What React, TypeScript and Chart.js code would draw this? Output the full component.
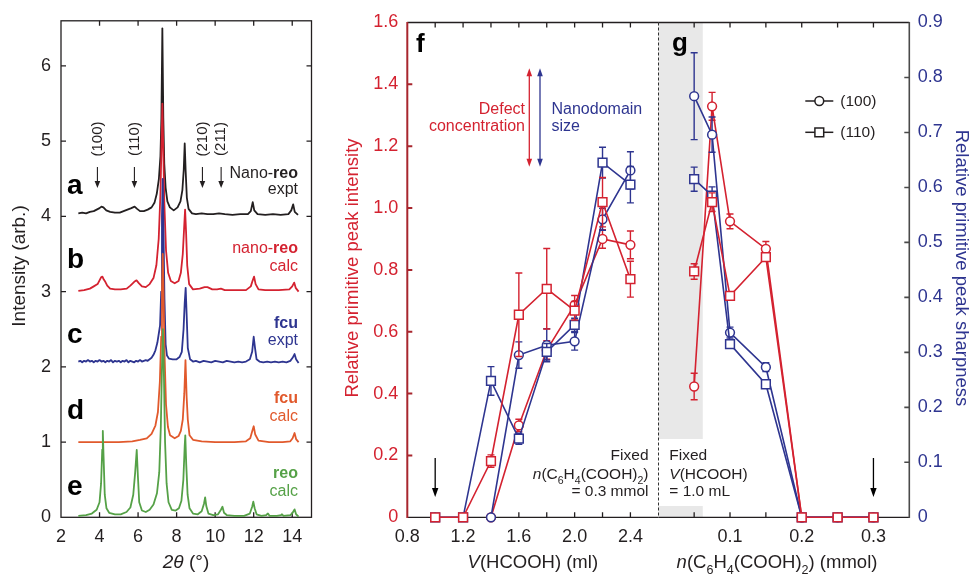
import React, { useEffect, useRef } from 'react';
import { Chart, registerables } from 'chart.js';

Chart.register(...registerables);

const FONT = '"Liberation Sans", Arial, Helvetica, sans-serif';
Chart.defaults.font.family = FONT;

const BLACK = '#231f20';
const RED = '#d42230';
const BLUE = '#2e3590';
const ORANGE = '#e1592c';
const GREEN = '#55a147';
const AXIS_RED = '#a8262e';
const AXIS_GREY = '#4a4a4a';
const GREY_BAND = '#e8e8e8';

// ---------- Panels a–e : PXRD patterns [2θ (°), intensity (offset)] ----------
const xrdNanoReoExpt: [number, number][] = [
  [2.9, 4.04], [3.1, 4.05], [3.3, 4.04], [3.5, 4.06], [3.7, 4.07], [3.85, 4.09], [4.0, 4.11], [4.1, 4.13],
  [4.2, 4.12], [4.35, 4.08], [4.55, 4.06], [4.8, 4.05], [5.05, 4.05], [5.25, 4.07], [5.45, 4.09], [5.65, 4.11],
  [5.82, 4.13], [5.95, 4.10], [6.1, 4.07], [6.3, 4.07], [6.5, 4.09], [6.7, 4.12], [6.85, 4.18], [6.97, 4.3],
  [7.08, 4.5], [7.16, 4.8], [7.21, 5.3], [7.26, 6.5], [7.31, 5.3], [7.36, 4.7], [7.43, 4.38], [7.52, 4.2],
  [7.65, 4.12], [7.85, 4.08], [8.05, 4.12], [8.2, 4.2], [8.3, 4.35], [8.37, 4.62], [8.42, 4.97], [8.47, 4.6],
  [8.53, 4.25], [8.62, 4.1], [8.8, 4.04], [9.0, 4.03], [9.3, 4.04], [9.6, 4.03], [9.9, 4.03], [10.2, 4.04],
  [10.5, 4.03], [10.9, 4.02], [11.3, 4.03], [11.7, 4.03], [11.85, 4.07], [11.95, 4.19], [12.03, 4.08],
  [12.2, 4.03], [12.6, 4.02], [13.0, 4.03], [13.4, 4.02], [13.8, 4.03], [13.95, 4.08], [14.05, 4.16],
  [14.13, 4.06], [14.3, 4.02],
];
const xrdNanoReoCalc: [number, number][] = [
  [2.9, 3.01], [3.2, 3.02], [3.5, 3.04], [3.7, 3.07], [3.9, 3.10], [4.0, 3.15], [4.08, 3.19], [4.15, 3.2],
  [4.22, 3.16], [4.3, 3.13], [4.4, 3.08], [4.55, 3.04], [4.8, 3.03], [5.1, 3.03], [5.41, 3.04], [5.6, 3.08],
  [5.8, 3.13], [5.92, 3.15], [6.05, 3.11], [6.2, 3.07], [6.4, 3.06], [6.6, 3.1], [6.8, 3.18], [6.95, 3.35],
  [7.07, 3.7], [7.16, 4.3], [7.22, 5.0], [7.26, 5.5], [7.3, 5.0], [7.36, 4.2], [7.45, 3.55], [7.56, 3.25],
  [7.7, 3.14], [7.9, 3.11], [8.1, 3.14], [8.22, 3.25], [8.32, 3.5], [8.39, 3.85], [8.44, 4.09], [8.49, 3.8],
  [8.55, 3.35], [8.65, 3.1], [8.85, 3.03], [9.2, 3.04], [9.45, 3.06], [9.6, 3.06], [9.85, 3.03], [10.1, 3.03],
  [10.3, 3.04], [10.5, 3.02], [11.0, 3.02], [11.6, 3.02], [11.85, 3.07], [11.95, 3.15], [12.02, 3.2],
  [12.1, 3.1], [12.25, 3.03], [12.6, 3.02], [13.3, 3.02], [13.85, 3.03], [14.0, 3.07], [14.1, 3.12],
  [14.18, 3.05], [14.33, 3.0],
];
const xrdFcuExpt: [number, number][] = [
  [2.9, 2.07], [3.0, 2.08], [3.1, 2.06], [3.2, 2.08], [3.3, 2.07], [3.4, 2.09], [3.5, 2.07], [3.6, 2.08],
  [3.7, 2.06], [3.8, 2.08], [3.9, 2.07], [4.0, 2.09], [4.1, 2.07], [4.2, 2.08], [4.3, 2.06], [4.4, 2.08],
  [4.5, 2.07], [4.6, 2.09], [4.7, 2.06], [4.8, 2.08], [4.9, 2.07], [5.0, 2.08], [5.1, 2.06], [5.2, 2.08],
  [5.3, 2.07], [5.4, 2.09], [5.5, 2.06], [5.6, 2.08], [5.7, 2.07], [5.8, 2.06], [5.9, 2.08], [6.0, 2.07],
  [6.1, 2.09], [6.2, 2.07], [6.3, 2.08], [6.4, 2.09], [6.5, 2.08], [6.6, 2.1], [6.7, 2.12], [6.8, 2.16],
  [6.9, 2.22], [7.0, 2.32], [7.08, 2.45], [7.14, 2.55], [7.2, 3.0], [7.24, 4.0], [7.28, 4.5], [7.32, 3.8],
  [7.37, 2.9], [7.43, 2.3], [7.5, 2.15], [7.6, 2.11], [7.8, 2.1], [8.0, 2.1], [8.15, 2.13], [8.27, 2.2],
  [8.36, 2.5], [8.42, 2.85], [8.47, 3.05], [8.52, 2.7], [8.58, 2.25], [8.7, 2.1], [8.85, 2.07], [9.0, 2.08],
  [9.2, 2.06], [9.4, 2.08], [9.6, 2.07], [9.8, 2.06], [10.0, 2.08], [10.2, 2.07], [10.4, 2.06], [10.6, 2.08],
  [10.8, 2.07], [11.0, 2.06], [11.2, 2.07], [11.4, 2.06], [11.6, 2.07], [11.8, 2.1], [11.92, 2.2],
  [12.0, 2.4], [12.07, 2.25], [12.15, 2.1], [12.3, 2.07], [12.5, 2.06], [12.7, 2.07], [12.9, 2.06],
  [13.1, 2.07], [13.3, 2.06], [13.5, 2.07], [13.7, 2.06], [13.9, 2.08], [14.02, 2.12], [14.12, 2.17],
  [14.2, 2.1], [14.33, 2.05],
];
const xrdFcuCalc: [number, number][] = [
  [2.9, 1.0], [4.0, 1.0], [5.0, 1.0], [5.7, 1.01], [6.1, 1.03], [6.45, 1.05], [6.7, 1.11], [6.9, 1.22],
  [7.03, 1.4], [7.13, 1.8], [7.2, 2.4], [7.24, 3.0], [7.28, 3.5], [7.32, 3.0], [7.37, 2.2], [7.45, 1.5],
  [7.55, 1.2], [7.66, 1.09], [7.9, 1.05], [8.1, 1.08], [8.22, 1.15], [8.32, 1.3], [8.4, 1.65], [8.46, 2.09],
  [8.52, 1.6], [8.58, 1.3], [8.67, 1.09], [8.85, 1.03], [9.3, 1.01], [10.0, 1.0], [11.0, 1.0], [11.6, 1.01],
  [11.82, 1.05], [11.93, 1.15], [12.0, 1.21], [12.08, 1.1], [12.25, 1.02], [12.8, 1.0], [13.5, 1.0],
  [13.9, 1.01], [14.02, 1.05], [14.12, 1.12], [14.2, 1.04], [14.33, 1.0],
];
const xrdReoCalc: [number, number][] = [
  [2.9, 0.02], [3.3, 0.03], [3.6, 0.05], [3.85, 0.1], [4.0, 0.2], [4.08, 0.45], [4.14, 0.9], [4.17, 1.15],
  [4.21, 0.8], [4.27, 0.3], [4.36, 0.12], [4.5, 0.06], [4.8, 0.04], [5.1, 0.04], [5.4, 0.07], [5.6, 0.13],
  [5.75, 0.3], [5.85, 0.6], [5.93, 0.895], [5.99, 0.55], [6.06, 0.2], [6.2, 0.09], [6.4, 0.07], [6.6, 0.1],
  [6.8, 0.17], [6.98, 0.32], [7.1, 0.6], [7.18, 1.2], [7.24, 2.0], [7.29, 2.5], [7.34, 1.9], [7.4, 1.0],
  [7.48, 0.45], [7.58, 0.2], [7.75, 0.1], [7.95, 0.09], [8.12, 0.12], [8.25, 0.22], [8.35, 0.5], [8.42, 0.95],
  [8.45, 1.09], [8.5, 0.7], [8.57, 0.3], [8.67, 0.12], [8.85, 0.05], [9.1, 0.04], [9.3, 0.08], [9.42, 0.18],
  [9.48, 0.266], [9.54, 0.15], [9.65, 0.05], [9.9, 0.03], [10.15, 0.04], [10.3, 0.1], [10.38, 0.14],
  [10.46, 0.06], [10.6, 0.03], [11.0, 0.02], [11.5, 0.02], [11.8, 0.05], [11.92, 0.14], [11.98, 0.207],
  [12.05, 0.12], [12.15, 0.04], [12.4, 0.02], [12.65, 0.03], [12.74, 0.05], [12.82, 0.02], [13.2, 0.02],
  [13.42, 0.03], [13.47, 0.04], [13.55, 0.02], [13.9, 0.03], [14.02, 0.06], [14.12, 0.106], [14.2, 0.04],
  [14.33, 0.01],
];
const xrdTwoThetaTicks = [2, 4, 6, 8, 10, 12, 14];
const xrdIntensityTicks = [0, 1, 2, 3, 4, 5, 6];
const reflectionLabels = ['(100)', '(110)', '(210)', '(211)'];
const reflectionTwoTheta = [3.89, 5.81, 9.34, 10.31];

// ---------- Panel f : vs V(HCOOH) (ml) ----------
const vHCOOH = [1.0, 1.2, 1.4, 1.6, 1.8, 2.0, 2.2, 2.4];
const fIntensity100 = [null, null, 0, 0.297, 0.541, 0.687, 0.9, 0.881];
const fIntensity100Err = [0, 0, 0, 0.02, 0.03, 0.03, 0.03, 0.045];
const fIntensity110 = [0, 0, 0.182, 0.655, 0.739, 0.668, 1.019, 0.77];
const fIntensity110Err = [0, 0, 0.02, 0.135, 0.13, 0.03, 0.08, 0.058];
const fSharpness100 = [null, null, 0, 0.295, 0.313, 0.32, 0.542, 0.631];
const fSharpness100Err = [0, 0, 0, 0.024, 0.03, 0.016, 0.02, 0.034];
const fSharpness110 = [0, 0, 0.248, 0.143, 0.301, 0.35, 0.645, 0.605];
const fSharpness110Err = [0, 0, 0.026, 0.01, 0.015, 0.012, 0.028, 0.033];
const fSelectedV = 1.0;

// ---------- Panel g : vs n(C6H4(COOH)2) (mmol) ----------
const nBDC = [0.05, 0.075, 0.1, 0.15, 0.2, 0.25, 0.3];
const gIntensity100 = [0.423, 1.329, 0.957, 0.868, 0, null, null];
const gIntensity100Err = [0.043, 0.045, 0.024, 0.024, 0, 0, 0];
const gIntensity110 = [0.795, 1.019, 0.716, 0.841, 0, 0, 0];
const gIntensity110Err = [0.025, 0.03, 0, 0, 0, 0, 0];
const gSharpness100 = [0.766, 0.696, 0.336, 0.273, 0, 0, 0];
const gSharpness100Err = [0.079, 0.032, 0.01, 0.008, 0, 0, 0];
const gSharpness110 = [0.615, 0.585, 0.315, 0.242, 0, 0, 0];
const gSharpness110Err = [0.022, 0.016, 0, 0, 0, 0, 0];
const gSelectedN = 0.3;
const gShadedMax = 0.062;

const vTicks = [0.8, 1.0, 1.2, 1.4, 1.6, 1.8, 2.0, 2.2, 2.4, 2.6];
const vTickLabels = [0.8, 1.2, 1.6, 2.0, 2.4];
const intensityTicks = [0, 0.2, 0.4, 0.6, 0.8, 1.0, 1.2, 1.4, 1.6];
const sharpnessTicks = [0, 0.1, 0.2, 0.3, 0.4, 0.5, 0.6, 0.7, 0.8, 0.9];
const nTicks = [0.05, 0.1, 0.15, 0.2, 0.25, 0.3];
const nTickLabels = [0.1, 0.2, 0.3];

// ---------- helpers ----------
type Run = { t: string; b?: boolean; i?: boolean; sub?: boolean };
const runFont = (r: Run, size: number) =>
  `${r.i ? 'italic ' : ''}${r.b ? 'bold ' : ''}${r.sub ? size * 0.68 : size}px ${FONT}`;

function drawRuns(ctx: any, runs: Run[], x: number, y: number, size: number, color: string,
  align: 'left' | 'right' | 'center' = 'left', rot = 0, baseline = 'alphabetic') {
  ctx.save();
  ctx.translate(x, y);
  ctx.rotate(rot);
  ctx.fillStyle = color;
  ctx.textBaseline = baseline;
  ctx.textAlign = 'left';
  let w = 0;
  for (const r of runs) { ctx.font = runFont(r, size); w += ctx.measureText(r.t).width; }
  let cx = align === 'left' ? 0 : align === 'right' ? -w : -w / 2;
  for (const r of runs) {
    ctx.font = runFont(r, size);
    ctx.fillText(r.t, cx, r.sub ? size * 0.3 : 0);
    cx += ctx.measureText(r.t).width;
  }
  ctx.restore();
}

function drawArrow(ctx: any, x: number, y1: number, y2: number, color: string, both = false,
  head = 8, half = 3, lw = 1.2) {
  ctx.save();
  ctx.strokeStyle = color;
  ctx.fillStyle = color;
  ctx.lineWidth = lw;
  const dir = Math.sign(y2 - y1);
  ctx.beginPath();
  ctx.moveTo(x, both ? y1 + dir * head * 0.7 : y1);
  ctx.lineTo(x, y2 - dir * head * 0.7);
  ctx.stroke();
  const tri = (tip: number, d: number) => {
    ctx.beginPath();
    ctx.moveTo(x, tip);
    ctx.lineTo(x - half, tip - d * head);
    ctx.lineTo(x + half, tip - d * head);
    ctx.closePath();
    ctx.fill();
  };
  tri(y2, dir);
  if (both) tri(y1, -dir);
  ctx.restore();
}

const errorBarPlugin = {
  id: 'errorBars',
  beforeDatasetDraw(chart: any, args: any) {
    const ds = chart.data.datasets[args.index];
    if (!ds.err) return;
    const ys = chart.scales[ds.yAxisID];
    const ctx = chart.ctx;
    ctx.save();
    ctx.strokeStyle = ds.borderColor;
    ctx.lineWidth = 1.4;
    ds.data.forEach((p: any, i: number) => {
      const e = ds.err[i];
      if (!e || p.y == null) return;
      const el = args.meta.data[i];
      const x = el.x;
      const yt = ys.getPixelForValue(p.y + e);
      const yb = ys.getPixelForValue(p.y - e);
      ctx.beginPath();
      ctx.moveTo(x, yt); ctx.lineTo(x, yb);
      ctx.moveTo(x - 3.5, yt); ctx.lineTo(x + 3.5, yt);
      ctx.moveTo(x - 3.5, yb); ctx.lineTo(x + 3.5, yb);
      ctx.stroke();
    });
    ctx.restore();
  },
};

const xGrid = { display: false, drawTicks: true, tickLength: 8.5 };
const yGrid = { display: false, drawTicks: false };
const noBorder = { display: false };
const tickFont = { family: FONT, size: 18 };
const fmt1 = (v: number) => (v === 0 ? '0' : v.toFixed(1));

function seriesDs(xs: number[], ys: (number | null)[], err: number[], color: string,
  shape: 'circle' | 'rect', axis: string) {
  return {
    data: xs.map((x, i) => ({ x, y: ys[i] })),
    err,
    yAxisID: axis,
    borderColor: color,
    backgroundColor: color,
    borderWidth: 1.6,
    pointStyle: shape,
    pointRadius: shape === 'rect' ? 6.2 : 4.4,
    pointBorderWidth: 1.5,
    pointBackgroundColor: '#ffffff',
    pointBorderColor: color,
    tension: 0,
    clip: false,
    spanGaps: false,
  };
}

// ---------- XRD chart ----------
const xrdDecor = {
  id: 'xrdDecor',
  beforeDatasetsDraw(chart: any) {
    const { ctx, chartArea: a, scales } = chart;
    const x = scales.x, y = scales.y;
    ctx.save();
    ctx.strokeStyle = BLACK;
    ctx.lineWidth = 1.3;
    ctx.strokeRect(a.left, a.top, a.right - a.left, a.bottom - a.top);
    ctx.beginPath();
    for (const v of xrdTwoThetaTicks) {
      const px = x.getPixelForValue(v);
      if (px <= a.left + 1) continue;
      ctx.moveTo(px, a.bottom); ctx.lineTo(px, a.bottom - 5);
      ctx.moveTo(px, a.top); ctx.lineTo(px, a.top + 5);
    }
    for (const v of xrdIntensityTicks) {
      const py = y.getPixelForValue(v);
      if (py >= a.bottom - 1) continue;
      ctx.moveTo(a.left, py); ctx.lineTo(a.left + 5, py);
      ctx.moveTo(a.right, py); ctx.lineTo(a.right - 5, py);
    }
    ctx.stroke();
    ctx.restore();
  },
  afterDraw(chart: any) {
    const { ctx, scales } = chart;
    const x = scales.x;
    reflectionLabels.forEach((lab, i) => {
      const px = x.getPixelForValue(reflectionTwoTheta[i]);
      drawRuns(ctx, [{ t: lab }], px, 139, 15, BLACK, 'center', -Math.PI / 2, 'middle');
      drawArrow(ctx, px, 167, 188, BLACK, false, 7, 2.8, 1.1);
    });
    const letters: [string, number][] = [['a', 194], ['b', 268], ['c', 343], ['d', 419], ['e', 495]];
    for (const [l, yy] of letters) drawRuns(ctx, [{ t: l, b: true }], 67, yy, 28, '#000');
    const R = 298;
    drawRuns(ctx, [{ t: 'Nano-' }, { t: 'reo', b: true }], R, 178, 16, BLACK, 'right');
    drawRuns(ctx, [{ t: 'expt' }], R, 194, 16, BLACK, 'right');
    drawRuns(ctx, [{ t: 'nano-' }, { t: 'reo', b: true }], R, 253, 16, RED, 'right');
    drawRuns(ctx, [{ t: 'calc' }], R, 271, 16, RED, 'right');
    drawRuns(ctx, [{ t: 'fcu', b: true }], R, 328, 16, BLUE, 'right');
    drawRuns(ctx, [{ t: 'expt' }], R, 345, 16, BLUE, 'right');
    drawRuns(ctx, [{ t: 'fcu', b: true }], R, 403, 16, ORANGE, 'right');
    drawRuns(ctx, [{ t: 'calc' }], R, 421, 16, ORANGE, 'right');
    drawRuns(ctx, [{ t: 'reo', b: true }], R, 478, 16, GREEN, 'right');
    drawRuns(ctx, [{ t: 'calc' }], R, 496, 16, GREEN, 'right');
    drawRuns(ctx, [{ t: 'Intensity (arb.)' }], 20, 266, 19, BLACK, 'center', -Math.PI / 2, 'middle');
    drawRuns(ctx, [{ t: '2θ', i: true }, { t: ' (°)' }], 186, 568, 19, BLACK, 'center');
  },
};

const xrdLine = (pts: [number, number][], color: string) => ({
  data: pts.map(([x, y]) => ({ x, y })),
  borderColor: color,
  borderWidth: 1.8,
  borderJoinStyle: 'round',
  pointRadius: 0,
  tension: 0,
  fill: false,
});

const makeXrdConfig = (): any => ({
  type: 'line',
  data: {
    datasets: [
      xrdLine(xrdReoCalc, GREEN),
      xrdLine(xrdFcuCalc, ORANGE),
      xrdLine(xrdFcuExpt, BLUE),
      xrdLine(xrdNanoReoCalc, RED),
      xrdLine(xrdNanoReoExpt, BLACK),
    ],
  },
  options: {
    responsive: false,
    animation: false,
    devicePixelRatio: 1,
    layout: { autoPadding: false, padding: { top: 20.7, right: 18.5, left: 0, bottom: 0 } },
    plugins: { legend: { display: false }, tooltip: { enabled: false } },
    scales: {
      x: {
        type: 'linear', min: 2, max: 15,
        afterBuildTicks: (s: any) => { s.ticks = xrdTwoThetaTicks.map((value) => ({ value })); },
        afterFit: (s: any) => { s.height = 56.7; },
        ticks: { color: BLACK, font: tickFont, padding: 0, autoSkip: false, maxRotation: 0, minRotation: 0, callback: (v: number) => String(v) },
        grid: xGrid, border: noBorder,
      },
      y: {
        type: 'linear', min: 0, max: 6.6,
        afterBuildTicks: (s: any) => { s.ticks = xrdIntensityTicks.map((value) => ({ value })); },
        afterFit: (s: any) => { s.width = 61; },
        ticks: { color: BLACK, font: tickFont, padding: 10, autoSkip: false, callback: (v: number) => String(v) },
        grid: yGrid, border: noBorder,
      },
    },
  },
  plugins: [xrdDecor],
});

// ---------- Panel f ----------
const fDecor = {
  id: 'fDecor',
  beforeDatasetsDraw(chart: any) {
    const { ctx, chartArea: a, scales } = chart;
    const x = scales.x, y = scales.y;
    ctx.save();
    ctx.strokeStyle = BLACK;
    ctx.lineWidth = 1.3;
    ctx.beginPath();
    ctx.moveTo(a.left, a.top); ctx.lineTo(a.right, a.top);
    ctx.moveTo(a.left, a.bottom); ctx.lineTo(a.right, a.bottom);
    for (const v of vTicks) {
      const px = x.getPixelForValue(v);
      if (px <= a.left + 1 || px >= a.right - 1) continue;
      ctx.moveTo(px, a.bottom); ctx.lineTo(px, a.bottom - 5);
      ctx.moveTo(px, a.top); ctx.lineTo(px, a.top + 5);
    }
    ctx.stroke();
    ctx.strokeStyle = AXIS_RED;
    ctx.lineWidth = 2;
    ctx.beginPath();
    ctx.moveTo(a.left, a.top - 0.6); ctx.lineTo(a.left, a.bottom + 0.6);
    for (const v of intensityTicks) {
      if (v === 0 || v === 1.6) continue;
      const py = y.getPixelForValue(v);
      ctx.moveTo(a.left, py); ctx.lineTo(a.left + 5, py);
    }
    ctx.stroke();
    ctx.restore();
  },
  afterDraw(chart: any) {
    const { ctx, chartArea: a, scales } = chart;
    const x = scales.x;
    drawRuns(ctx, [{ t: 'f', b: true }], 86, 52, 26, '#000');
    drawArrow(ctx, 199.3, 68.3, 166.7, RED, true, 8, 2.8, 1.3);
    drawArrow(ctx, 210, 68.3, 166.7, BLUE, true, 8, 2.8, 1.3);
    drawRuns(ctx, [{ t: 'Defect' }], 195, 114, 16, RED, 'right');
    drawRuns(ctx, [{ t: 'concentration' }], 195, 131, 16, RED, 'right');
    drawRuns(ctx, [{ t: 'Nanodomain' }], 221.5, 114, 16, BLUE, 'left');
    drawRuns(ctx, [{ t: 'size' }], 221.5, 131, 16, BLUE, 'left');
    drawArrow(ctx, x.getPixelForValue(fSelectedV), 458, 497, '#000', false, 9, 3.2, 1.3);
    drawRuns(ctx, [{ t: 'Fixed' }], 318.5, 460, 15.5, BLACK, 'right');
    drawRuns(ctx, [{ t: 'n', i: true }, { t: '(C' }, { t: '6', sub: true }, { t: 'H' }, { t: '4', sub: true },
      { t: '(COOH)' }, { t: '2', sub: true }, { t: ')' }], 318.5, 479, 15.5, BLACK, 'right');
    drawRuns(ctx, [{ t: '= 0.3 mmol' }], 318.5, 496, 15.5, BLACK, 'right');
    drawRuns(ctx, [{ t: 'Relative primitive peak intensity' }], 23, 268, 18.5, RED, 'center', -Math.PI / 2, 'middle');
    drawRuns(ctx, [{ t: 'V', i: true }, { t: '(HCOOH) (ml)' }], (a.left + a.right) / 2 + 0, 568, 18.5, BLACK, 'center');
  },
};

const makeFConfig = (): any => ({
  type: 'line',
  data: {
    datasets: [
      seriesDs(vHCOOH, fIntensity110, fIntensity110Err, RED, 'rect', 'y'),
      seriesDs(vHCOOH, fSharpness110, fSharpness110Err, BLUE, 'rect', 'y2'),
      seriesDs(vHCOOH, fSharpness100, fSharpness100Err, BLUE, 'circle', 'y2'),
      seriesDs(vHCOOH, fIntensity100, fIntensity100Err, RED, 'circle', 'y'),
    ],
  },
  options: {
    responsive: false,
    animation: false,
    devicePixelRatio: 1,
    layout: { autoPadding: false, padding: { top: 22.5, right: 2.7, left: 0, bottom: 0 } },
    plugins: { legend: { display: false }, tooltip: { enabled: false } },
    scales: {
      x: {
        type: 'linear', min: 0.8, max: 2.6,
        afterBuildTicks: (s: any) => { s.ticks = vTicks.map((value) => ({ value })); },
        afterFit: (s: any) => { s.height = 56.7; },
        ticks: { color: BLACK, font: tickFont, padding: 0, autoSkip: false, maxRotation: 0, minRotation: 0,
          callback: (v: number) => (vTickLabels.includes(v) ? v.toFixed(1) : '') },
        grid: xGrid, border: noBorder,
      },
      y: {
        type: 'linear', position: 'left', min: 0, max: 1.6,
        afterBuildTicks: (s: any) => { s.ticks = intensityTicks.map((value) => ({ value })); },
        afterFit: (s: any) => { s.width = 77.3; },
        ticks: { color: RED, font: tickFont, padding: 9, autoSkip: false, callback: (v: number) => fmt1(v) },
        grid: yGrid, border: noBorder,
      },
      y2: { type: 'linear', position: 'right', min: 0, max: 0.9, display: false },
    },
  },
  plugins: [errorBarPlugin, fDecor],
});

// ---------- Panel g ----------
const gDecor = {
  id: 'gDecor',
  beforeDatasetsDraw(chart: any) {
    const { ctx, chartArea: a, scales } = chart;
    const x = scales.x, y2 = scales.y2;
    ctx.save();
    const xr = x.getPixelForValue(gShadedMax);
    ctx.fillStyle = GREY_BAND;
    ctx.fillRect(a.left, a.top, xr - a.left, a.bottom - 78.3 - a.top);
    ctx.fillRect(a.left, a.bottom - 11.3, xr - a.left, 11.3);
    ctx.strokeStyle = '#000';
    ctx.lineWidth = 1;
    ctx.setLineDash([3, 2]);
    ctx.beginPath();
    ctx.moveTo(a.left, a.top); ctx.lineTo(a.left, a.bottom);
    ctx.stroke();
    ctx.setLineDash([]);
    ctx.strokeStyle = BLACK;
    ctx.lineWidth = 1.3;
    ctx.beginPath();
    ctx.moveTo(a.left, a.top); ctx.lineTo(a.right, a.top);
    ctx.moveTo(a.left, a.bottom); ctx.lineTo(a.right, a.bottom);
    for (const v of nTicks) {
      const px = x.getPixelForValue(v);
      ctx.moveTo(px, a.bottom); ctx.lineTo(px, a.bottom - 5);
      ctx.moveTo(px, a.top); ctx.lineTo(px, a.top + 5);
    }
    ctx.stroke();
    ctx.strokeStyle = AXIS_GREY;
    ctx.lineWidth = 1.6;
    ctx.beginPath();
    ctx.moveTo(a.right, a.top - 0.6); ctx.lineTo(a.right, a.bottom + 0.6);
    for (const v of sharpnessTicks) {
      if (v === 0 || v === 0.9) continue;
      const py = y2.getPixelForValue(v);
      ctx.moveTo(a.right, py); ctx.lineTo(a.right - 5, py);
    }
    ctx.stroke();
    ctx.restore();
  },
  afterDraw(chart: any) {
    const { ctx, chartArea: a, scales } = chart;
    const x = scales.x;
    drawRuns(ctx, [{ t: 'g', b: true }], 14, 51, 26, '#000');
    const lx = a.left + 147;
    [[101, 'circle', '(100)'], [132.3, 'rect', '(110)']].forEach(([yy, shape, lab]: any) => {
      ctx.save();
      ctx.strokeStyle = BLACK;
      ctx.lineWidth = 1.5;
      ctx.beginPath();
      ctx.moveTo(lx, yy); ctx.lineTo(lx + 28, yy);
      ctx.stroke();
      ctx.fillStyle = '#fff';
      ctx.beginPath();
      if (shape === 'circle') ctx.arc(lx + 14, yy, 4.4, 0, Math.PI * 2);
      else ctx.rect(lx + 14 - 4.4, yy - 4.4, 8.8, 8.8);
      ctx.fill();
      ctx.stroke();
      ctx.restore();
      drawRuns(ctx, [{ t: lab }], lx + 35, yy + 5, 15.5, BLACK, 'left');
    });
    drawArrow(ctx, x.getPixelForValue(gSelectedN), 458, 497, '#000', false, 9, 3.2, 1.3);
    drawRuns(ctx, [{ t: 'Fixed' }], 11.3, 460, 15.5, BLACK, 'left');
    drawRuns(ctx, [{ t: 'V', i: true }, { t: '(HCOOH)' }], 11.3, 479, 15.5, BLACK, 'left');
    drawRuns(ctx, [{ t: '= 1.0 mL' }], 11.3, 496, 15.5, BLACK, 'left');
    drawRuns(ctx, [{ t: 'Relative primitive peak sharpness' }], 303, 268, 18.5, BLUE, 'center', Math.PI / 2, 'middle');
    drawRuns(ctx, [{ t: 'n', i: true }, { t: '(C' }, { t: '6', sub: true }, { t: 'H' }, { t: '4', sub: true },
      { t: '(COOH)' }, { t: '2', sub: true }, { t: ') (mmol)' }], 119, 568, 18.5, BLACK, 'center');
  },
};

const makeGConfig = (): any => ({
  type: 'line',
  data: {
    datasets: [
      seriesDs(nBDC, gIntensity110, gIntensity110Err, RED, 'rect', 'y'),
      seriesDs(nBDC, gSharpness110, gSharpness110Err, BLUE, 'rect', 'y2'),
      seriesDs(nBDC, gSharpness100, gSharpness100Err, BLUE, 'circle', 'y2'),
      seriesDs(nBDC, gIntensity100, gIntensity100Err, RED, 'circle', 'y'),
    ],
  },
  options: {
    responsive: false,
    animation: false,
    devicePixelRatio: 1,
    layout: { autoPadding: false, padding: { top: 22.5, right: 0, left: 0.3, bottom: 0 } },
    plugins: { legend: { display: false }, tooltip: { enabled: false } },
    scales: {
      x: {
        type: 'linear', min: 0, max: 0.35,
        afterBuildTicks: (s: any) => { s.ticks = nTicks.map((value) => ({ value })); },
        afterFit: (s: any) => { s.height = 56.7; },
        ticks: { color: BLACK, font: tickFont, padding: 0, autoSkip: false, maxRotation: 0, minRotation: 0,
          callback: (v: number) => (nTickLabels.includes(v) ? v.toFixed(1) : '') },
        grid: xGrid, border: noBorder,
      },
      y: { type: 'linear', position: 'left', min: 0, max: 1.6, display: false },
      y2: {
        type: 'linear', position: 'right', min: 0, max: 0.9,
        afterBuildTicks: (s: any) => { s.ticks = sharpnessTicks.map((value) => ({ value })); },
        afterFit: (s: any) => { s.width = 59.7; },
        ticks: { color: BLUE, font: tickFont, padding: 8.5, autoSkip: false, callback: (v: number) => fmt1(v) },
        grid: yGrid, border: noBorder,
      },
    },
  },
  plugins: [errorBarPlugin, gDecor],
});

function ChartBox({ left, top, width, height, make }: any) {
  const ref = useRef<HTMLCanvasElement>(null);
  useEffect(() => {
    const chart = new Chart(ref.current as HTMLCanvasElement, make());
    return () => chart.destroy();
  }, [make]);
  return (
    <canvas ref={ref} width={width} height={height}
      style={{ position: 'absolute', left, top, width, height, display: 'block' }} />
  );
}

export default function App() {
  return (
    <div style={{ position: 'fixed', left: 0, top: 0, width: 969, height: 574, background: '#fff', overflow: 'hidden' }}>
      <ChartBox left={0} top={0} width={330} height={574} make={makeXrdConfig} />
      <ChartBox left={330} top={0} width={331} height={574} make={makeFConfig} />
      <ChartBox left={658} top={0} width={311} height={574} make={makeGConfig} />
    </div>
  );
}
